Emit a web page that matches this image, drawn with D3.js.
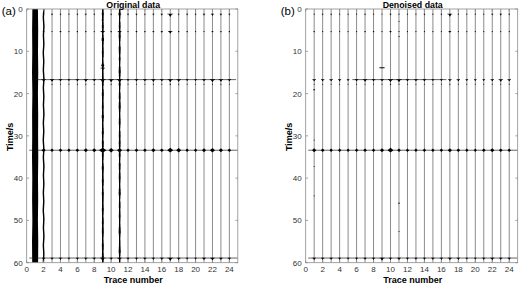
<!DOCTYPE html>
<html><head><meta charset="utf-8">
<script src="https://cdn.jsdelivr.net/npm/d3@7"></script>
<style>body{margin:0;background:#fff}svg{display:block}text{font-family:"Liberation Sans",Arial,sans-serif}</style>
</head><body>
<script>
// ---------- data ----------
const traces = [1,2,3,4,5,6,7,8,9,10,11,12,13,14,15,16,17,18,19,20,21,22,23,24];
const eventTimes = [1.2, 5.3, 16.7, 17.8, 33.4, 58.9];
const eventShapes = ["tee","tee","tee","tee","diamond","tee"];
const xTicks = [0,2,4,6,8,10,12,14,16,18,20,22,24];
const yTicks = [0,10,20,30,40,50,60];

// event amplitudes (trace units), original data
const origE1 = [0.1,0.1,0.12,0.1,0.08,0.1,0.12,0.1,0.15,0.1,0.2,0.12,0.12,0.1,0.12,0.15,0.35,0.1,0.12,0.1,0.15,0.2,0.15,0.12];
const origE2 = [0.1,0.1,0.06,0.1,0.06,0.08,0.08,0.06,0.25,0.08,0.22,0.06,0.1,0.08,0.1,0.12,0.25,0.08,0.08,0.06,0.06,0.1,0.08,0.08];
const origE3 = [0.3,0.25,0.25,0.2,0.15,0.2,0.25,0.2,0.35,0.3,0.35,0.15,0.2,0.2,0.25,0.2,0.3,0.25,0.15,0.15,0.2,0.3,0.25,0.2];
const origE4 = [0.05,0.05,0.06,0.05,0.05,0.06,0.06,0.05,0.1,0.06,0.1,0.05,0.05,0.05,0.06,0.05,0.08,0.06,0.05,0.05,0.05,0.06,0.06,0.05];
const origE5 = [0.35,0.25,0.2,0.22,0.2,0.22,0.25,0.25,0.45,0.3,0.3,0.2,0.22,0.22,0.25,0.22,0.35,0.3,0.2,0.2,0.25,0.3,0.25,0.22];
const origE6 = [0.3,0.2,0.18,0.2,0.15,0.18,0.2,0.2,0.35,0.2,0.3,0.18,0.2,0.2,0.2,0.22,0.35,0.22,0.15,0.15,0.25,0.3,0.22,0.2];
// denoised data
const denE1 = [0.08,0.1,0.1,0.08,0.08,0.08,0.1,0.08,0.06,0.12,0.08,0.08,0.08,0.1,0.08,0.1,0.3,0.08,0.08,0.08,0.08,0.12,0.15,0.1];
const denE2 = [0.08,0.06,0.06,0.06,0.06,0.06,0.08,0.08,0.06,0.12,0.06,0.06,0.06,0.06,0.06,0.06,0.15,0.06,0.06,0.06,0.06,0.06,0.06,0.06];
const denE3 = [0.2,0.2,0.2,0.18,0.15,0.2,0.25,0.2,0.2,0.3,0.3,0.2,0.2,0.2,0.15,0.15,0.2,0.2,0.15,0.15,0.15,0.2,0.25,0.2];
const denE4 = [0.05,0.05,0.05,0.05,0.05,0.05,0.05,0.05,0.05,0.08,0.05,0.05,0.05,0.05,0.05,0.05,0.06,0.05,0.05,0.05,0.05,0.05,0.05,0.05];
const denE5 = [0.25,0.22,0.2,0.2,0.18,0.2,0.22,0.2,0.25,0.35,0.22,0.2,0.2,0.2,0.2,0.2,0.25,0.22,0.18,0.18,0.22,0.25,0.22,0.2];
const denE6 = [0.22,0.2,0.2,0.18,0.15,0.18,0.2,0.2,0.3,0.2,0.22,0.18,0.18,0.18,0.2,0.2,0.25,0.2,0.15,0.15,0.2,0.25,0.2,0.2];

// span (trace units) of the horizontal event lines: [event index, from, to]
const origLines = [[2, 1, 24.8],[4, 0.3, 25],[5, 0.3, 25]];
const denLines  = [[2, 5.5, 16.6],[4, 0.3, 25],[5, 0.3, 25]];

// isolated spikes: trace, time, amplitude
const origSpikeTrace = [9, 9, 9, 11];
const origSpikeTime  = [13.3, 14.0, 2.6, 9.0];
const origSpikeAmp   = [0.18, 0.25, 0.12, 0.12];
const denSpikeTrace  = [1, 1, 1, 1, 9, 11, 11, 11, 11];
const denSpikeTime   = [19.1, 31.0, 37.3, 44.2, 13.9, 45.9, 52.6, 3.0, 6.5];
const denSpikeAmp    = [0.1, 0.06, 0.06, 0.06, 0.3, 0.12, 0.06, 0.06, 0.06];

// noisy traces in the original data
const trace1Envelope = [0.33,0.36,0.34,0.37,0.33,0.36,0.35,0.37,0.34,0.36,0.33,0.37,0.35];
const trace9Noise = [0.1,-0.06,0.14,-0.04,0.08,-0.1,0.12,-0.05,0.06,-0.12,0.15,-0.04,0.1,-0.08,0.13,-0.06,0.05,-0.1,0.14,-0.05,0.09,-0.07,0.12,-0.1,0.06,-0.04,0.15,-0.08,0.1,-0.05,0.12,-0.09,0.07,-0.11,0.14,-0.04,0.08,-0.06,0.13,-0.1,0.05,-0.07,0.15,-0.05,0.1,-0.09,0.12,-0.04,0.07,-0.11,0.13,-0.06,0.09,-0.08,0.14,-0.05,0.06,-0.1,0.12,-0.07,0.1,-0.05,0.13,-0.09,0.08,-0.04,0.15,-0.06,0.1,-0.1,0.12,-0.05,0.07,-0.08,0.14,-0.06,0.09,-0.11,0.13,-0.04];
const trace11Noise = [-0.05,0.12,-0.09,0.07,-0.04,0.14,-0.06,0.1,-0.1,0.13,-0.05,0.08,-0.07,0.15,-0.04,0.11,-0.09,0.06,-0.06,0.14,-0.1,0.09,-0.05,0.12,-0.08,0.07,-0.04,0.15,-0.06,0.1,-0.11,0.13,-0.05,0.08,-0.07,0.12,-0.09,0.06,-0.04,0.14,-0.06,0.11,-0.1,0.09,-0.05,0.13,-0.08,0.07,-0.06,0.15,-0.04,0.1,-0.09,0.12,-0.05,0.08,-0.07,0.14,-0.1,0.06,-0.05,0.13,-0.06,0.09,-0.08,0.12,-0.04,0.1,-0.07,0.15,-0.09,0.08,-0.05,0.11,-0.06,0.14,-0.1,0.07,-0.04,0.12];
const trace2Noise = [0.03,-0.03,0.04,-0.02,0.03,-0.04,0.02,-0.03,0.04,-0.03,0.03,-0.02,0.04,-0.03,0.02,-0.04,0.03,-0.03,0.04,-0.02,0.03,-0.03,0.02,-0.04,0.03,-0.02,0.04,-0.03,0.03,-0.03];

const titles = ["Original data","Denoised data"];
const panelLabels = ["(a)","(b)"];

// ---------- drawing ----------
const W = 520, H = 284;
const svg = d3.select("body").append("svg").attr("width", W).attr("height", H);

const panels = [
  {x0: 26.7, x1: 237.8, ev: [origE1,origE2,origE3,origE4,origE5,origE6], lines: origLines,
   sT: origSpikeTrace, sTime: origSpikeTime, sA: origSpikeAmp, noisy: true},
  {x0: 305.7, x1: 517.7, ev: [denE1,denE2,denE3,denE4,denE5,denE6], lines: denLines,
   sT: denSpikeTrace, sTime: denSpikeTime, sA: denSpikeAmp, noisy: false}
];
const yTop = 9, yBot = 262.7;

panels.forEach((p, pi) => {
  const x = d3.scaleLinear().domain([0, 25]).range([p.x0, p.x1]);
  const y = d3.scaleLinear().domain([0, 60]).range([yTop, yBot]);
  const unit = x(1) - x(0);
  const g = svg.append("g");
  const clipId = "clip" + pi;
  svg.append("clipPath").attr("id", clipId).append("rect")
    .attr("x", p.x0).attr("y", yTop).attr("width", p.x1 - p.x0).attr("height", yBot - yTop);
  const pg = g.append("g").attr("clip-path", `url(#${clipId})`);

  // trace baselines
  pg.selectAll("line.tr").data(traces).join("line")
    .attr("x1", d => x(d)).attr("x2", d => x(d))
    .attr("y1", yTop).attr("y2", yBot)
    .attr("stroke", "#6e6e6e").attr("stroke-width", 0.8);

  if (p.noisy) {
    const envT = trace1Envelope.map((v, i) => i * 60 / (trace1Envelope.length - 1));
    pg.append("path")
      .datum(trace1Envelope)
      .attr("d", d3.area().x0(v => x(1 - v)).x1(v => x(1 + v)).y((v, i) => y(envT[i])))
      .attr("fill", "#000");
    const n2 = trace2Noise.length;
    pg.append("path").datum(trace2Noise)
      .attr("d", d3.line().x(v => x(2 + v)).y((v, i) => y(i * 60 / (n2 - 1))))
      .attr("fill", "none").attr("stroke", "#000").attr("stroke-width", 1.4);
    // stippled noisy traces 9 and 11
    [[9, trace9Noise], [11, trace11Noise]].forEach(([tr, arr]) => {
      const n = arr.length;
      const tt = (i) => i * 60 / (n - 1);
      pg.append("path").datum(arr)
        .attr("d", d3.area().curve(d3.curveStep)
          .x0(v => x(tr - Math.abs(v) * 0.9)).x1(v => x(tr + Math.abs(v) * 1.1))
          .y((v, i) => y(tt(i))))
        .attr("fill", "#000");
      pg.append("line").attr("x1", x(tr)).attr("x2", x(tr)).attr("y1", yTop).attr("y2", yBot)
        .attr("stroke", "#000").attr("stroke-width", 1.1);
    });
  }

  // horizontal event lines
  pg.selectAll("line.ev").data(p.lines).join("line")
    .attr("x1", d => x(d[1])).attr("x2", d => x(d[2]))
    .attr("y1", d => y(eventTimes[d[0]])).attr("y2", d => y(eventTimes[d[0]]))
    .attr("stroke", "#222").attr("stroke-width", 0.7);

  // event wavelets
  const evData = [];
  p.ev.forEach((arr, ei) => arr.forEach((a, ti) => evData.push({tr: traces[ti], t: eventTimes[ei], a, shape: eventShapes[ei]})));
  p.sT.forEach((tr, i) => evData.push({tr, t: p.sTime[i], a: p.sA[i], shape: "bar"}));
  pg.selectAll("path.wv").data(evData).join("path")
    .attr("d", d => {
      const cx = x(d.tr), cy = y(d.t), w = d.a * unit;
      if (d.shape === "diamond") {
        const h = Math.min(2.6, 0.9 + w * 0.5);
        return `M${cx - w},${cy}L${cx},${cy - h}L${cx + w},${cy}L${cx},${cy + h}Z`;
      }
      if (d.shape === "bar") {
        return `M${cx - w},${cy - 0.4}L${cx + w},${cy - 0.4}L${cx + w},${cy + 0.4}L${cx - w},${cy + 0.4}Z`;
      }
      const h = Math.min(3.2, 0.8 + w * 0.7), tw = w * 0.6;
      return `M${cx - w},${cy - 0.4}L${cx + w},${cy - 0.4}L${cx + w},${cy + 0.3}L${cx + tw},${cy + 0.3}L${cx},${cy + h}L${cx - tw},${cy + 0.3}L${cx - w},${cy + 0.3}Z`;
    })
    .attr("fill", "#000");

  // axes frame and ticks (inward)
  const axCol = "#8a8a8a";
  g.append("rect").attr("x", p.x0).attr("y", yTop).attr("width", p.x1 - p.x0).attr("height", yBot - yTop)
    .attr("fill", "none").attr("stroke", axCol).attr("stroke-width", 0.8);
  const tl = 2.3;
  g.selectAll("line.xt").data(xTicks).join("line")
    .attr("x1", d => x(d)).attr("x2", d => x(d)).attr("y1", yBot).attr("y2", yBot - tl)
    .attr("stroke", axCol).attr("stroke-width", 0.8);
  g.selectAll("line.xt2").data(xTicks).join("line")
    .attr("x1", d => x(d)).attr("x2", d => x(d)).attr("y1", yTop).attr("y2", yTop + tl)
    .attr("stroke", axCol).attr("stroke-width", 0.8);
  g.selectAll("line.yt").data(yTicks).join("line")
    .attr("x1", p.x0).attr("x2", p.x0 + tl).attr("y1", d => y(d)).attr("y2", d => y(d))
    .attr("stroke", axCol).attr("stroke-width", 0.8);
  g.selectAll("line.yt2").data(yTicks).join("line")
    .attr("x1", p.x1).attr("x2", p.x1 - tl).attr("y1", d => y(d)).attr("y2", d => y(d))
    .attr("stroke", axCol).attr("stroke-width", 0.8);

  // tick labels
  g.selectAll("text.xl").data(xTicks).join("text")
    .attr("x", d => x(d)).attr("y", yBot + 9.5).attr("text-anchor", "middle")
    .attr("font-size", 8).attr("fill", "#333").text(d => d);
  g.selectAll("text.yl").data(yTicks).join("text")
    .attr("x", p.x0 - 4).attr("y", d => y(d) + 3).attr("text-anchor", "end")
    .attr("font-size", 8).attr("fill", "#333").text(d => d);

  // titles and labels
  g.append("text").attr("x", (p.x0 + p.x1) / 2 + 1).attr("y", 7.5).attr("text-anchor", "middle")
    .attr("font-size", 8.8).attr("font-weight", "bold").attr("fill", "#000").text(titles[pi]);
  g.append("text").attr("x", (p.x0 + p.x1) / 2 + 1).attr("y", 283).attr("text-anchor", "middle")
    .attr("font-size", 9).attr("font-weight", "bold").attr("fill", "#000").text("Trace number");
  g.append("text").attr("transform", `translate(${p.x0 - 14},${(yTop + yBot) / 2 + 1}) rotate(-90)`)
    .attr("text-anchor", "middle").attr("font-size", 9).attr("font-weight", "bold").attr("fill", "#000").text("Time/s");
  g.append("text").attr("x", p.x0 - 25).attr("y", 15).attr("font-size", 11.5).attr("fill", "#000").text(panelLabels[pi]);
});
</script>
</body></html>
